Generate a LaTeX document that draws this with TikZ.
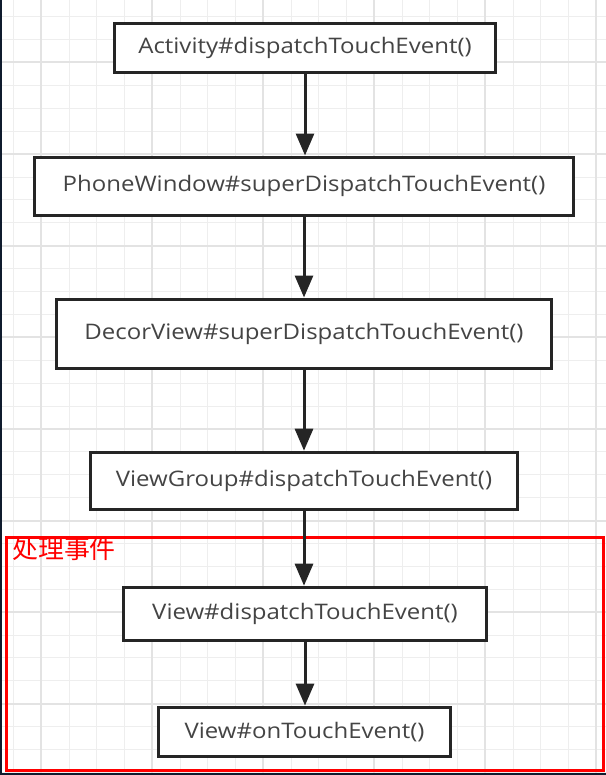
\documentclass[tikz,border=0pt]{standalone}
\usepackage{fontspec}
\setmainfont[FakeStretch=1.12]{Open Sans}
\newfontfamily\cjk{Noto Sans CJK SC}
\usetikzlibrary{arrows.meta}
\definecolor{gridminor}{HTML}{EEEEEE}
\definecolor{gridmajor}{HTML}{E3E3E3}
\definecolor{boxline}{HTML}{252525}
\definecolor{txt}{HTML}{444444}
\definecolor{edgecol}{HTML}{0F1B2D}
\tikzset{
  stepbox/.style={draw=boxline, line width=3bp, fill=white, inner sep=0pt,
    font=\fontsize{21.5}{21.5}\selectfont, text=txt},
  flow/.style={draw=boxline, line width=3bp, -{Triangle[width=18bp,length=22bp]}},
  minorline/.style={draw=gridminor, line width=1bp},
  majorline/.style={draw=gridmajor, line width=2bp}
}
\begin{document}
\begin{tikzpicture}[x=1bp,y=-1bp]
\useasboundingbox (0,0) rectangle (606,775);
\fill[white] (0,0) rectangle (606,775);
% grid
\foreach \i in {0,...,21} \draw[minorline] ({13.5+27.75*\i},0) -- ({13.5+27.75*\i},775);
\foreach \i in {0,...,33} \draw[minorline] (0,{16.7+22.9*\i}) -- (606,{16.7+22.9*\i});
\foreach \i in {0,...,5} \draw[majorline] ({41+111*\i},0) -- ({41+111*\i},775);
\foreach \i in {0,...,8} \draw[majorline] (0,{62.5+91.6*\i}) -- (606,{62.5+91.6*\i});
% frame edges
\fill[edgecol] (0,0) rectangle (2,775);
\fill[edgecol] (0,772.5) rectangle (606,775);
% group frame
\draw[red, line width=3bp] (6.5,537.5) rectangle (603,770.5);
\node[anchor=north west, inner sep=0pt, text=red, font=\cjk\fontsize{26}{26}\selectfont] (lbl) at (12,537) {处理事件};
% boxes
\node[stepbox, minimum width=381bp, minimum height=49bp] (a) at (305,48) {Activity\#dispatchTouchEvent()};
\node[stepbox, minimum width=539bp, minimum height=58bp] (b) at (304,186) {PhoneWindow\#superDispatchTouchEvent()};
\node[stepbox, minimum width=495bp, minimum height=69bp] (c) at (304,333.5) {DecorView\#superDispatchTouchEvent()};
\node[stepbox, minimum width=427bp, minimum height=57bp] (d) at (304,480.7) {ViewGroup\#dispatchTouchEvent()};
\node[stepbox, minimum width=363bp, minimum height=53bp] (e) at (305,613.7) {View\#dispatchTouchEvent()};
\node[stepbox, minimum width=292bp, minimum height=49bp] (f) at (304.5,731.6) {View\#onTouchEvent()};
% arrows
\draw[flow] (a.south) -- (a.south |- b.north);
\draw[flow] (b.south) -- (b.south |- c.north);
\draw[flow] (c.south) -- (c.south |- d.north);
\draw[flow] (d.south) -- (d.south |- e.north);
\draw[flow] (e.south) -- (e.south |- f.north);
\end{tikzpicture}
\end{document}
